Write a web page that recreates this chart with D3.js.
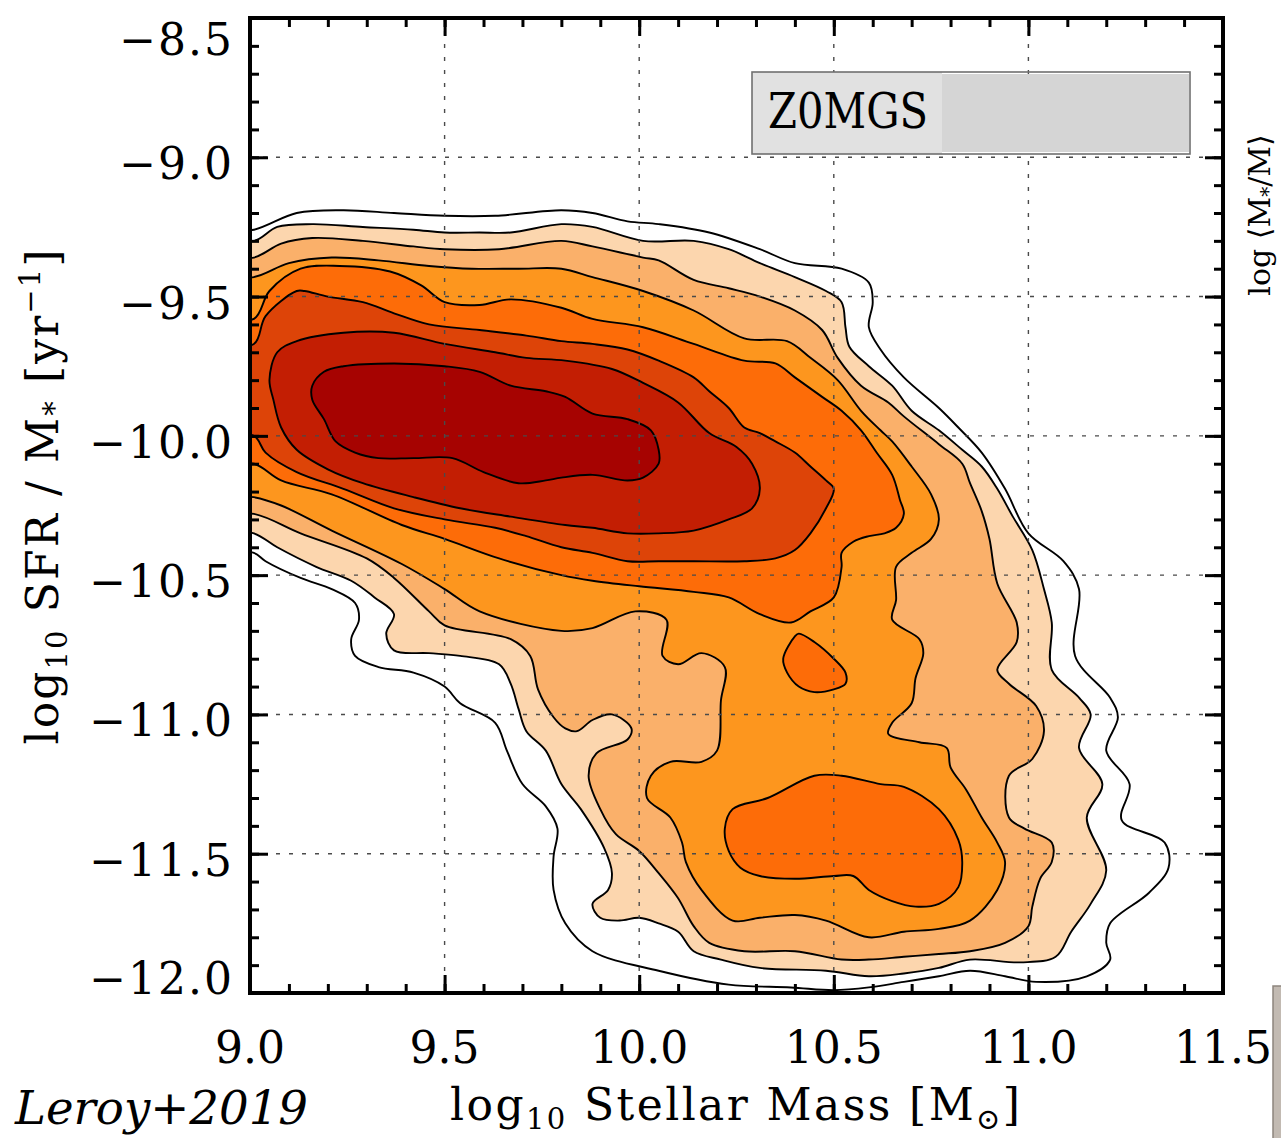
<!DOCTYPE html>
<html>
<head>
<meta charset="utf-8">
<script src="https://cdn.jsdelivr.net/npm/d3@7"></script>
<style>
  body { margin: 0; background: #fff; }
  svg text { font-family: "DejaVu Serif", serif; }
</style>
</head>
<body>
<div id="chart"></div>
<script>
// Parameters
var W = 1281, H = 1138;
var mL = 250, mR = 1223, mT = 18, mB = 993;

// tick values
var xMajor = [9.0, 9.5, 10.0, 10.5, 11.0, 11.5],
  yMajor = [-8.5, -9.0, -9.5, -10.0, -10.5, -11.0, -11.5, -12.0],
  xGrid = [9.5, 10.0, 10.5, 11.0],
  yGrid = [-9.0, -9.5, -10.0, -10.5, -11.0, -11.5];

// contour fills, outermost (level 0) to innermost (level 7)
var levelColors = ["#ffffff", "#fcd6ae", "#fab06a", "#fd961e", "#fd6c08", "#dd4408", "#c31e03", "#a60301"];

// contour outlines as [log10 M*, log10 sSFR]
var c0 = [[8.90,-9.27],[9.01,-9.26],[9.12,-9.20],[9.24,-9.19],[9.37,-9.20],[9.50,-9.21],[9.63,-9.21],[9.80,-9.19],
  [9.88,-9.20],[9.97,-9.23],[10.05,-9.24],[10.18,-9.27],[10.31,-9.33],[10.40,-9.38],[10.52,-9.40],[10.59,-9.45],
  [10.60,-9.52],[10.59,-9.61],[10.62,-9.69],[10.68,-9.79],[10.77,-9.90],[10.82,-9.97],[10.88,-10.06],[10.94,-10.19],
  [11.00,-10.35],[11.09,-10.45],[11.13,-10.55],[11.12,-10.79],[11.21,-10.94],[11.23,-11.01],[11.20,-11.13],[11.26,-11.25],
  [11.24,-11.38],[11.35,-11.46],[11.36,-11.55],[11.31,-11.64],[11.21,-11.75],[11.20,-11.82],[11.21,-11.88],[11.15,-11.94],
  [11.02,-11.96],[10.94,-11.94],[10.85,-11.92],[10.77,-11.94],[10.68,-11.96],[10.59,-11.98],[10.50,-11.99],[10.39,-11.98],
  [10.23,-11.97],[10.05,-11.92],[9.88,-11.85],[9.81,-11.75],[9.78,-11.63],[9.78,-11.51],[9.79,-11.41],[9.76,-11.33],
  [9.70,-11.25],[9.66,-11.13],[9.63,-11.03],[9.54,-10.96],[9.50,-10.90],[9.42,-10.85],[9.33,-10.83],[9.27,-10.79],
  [9.26,-10.73],[9.28,-10.66],[9.27,-10.60],[9.21,-10.55],[9.13,-10.51],[9.04,-10.45],[9.01,-10.42],[8.90,-10.40]];

var c1 = [[8.90,-9.28],[9.01,-9.30],[9.07,-9.25],[9.16,-9.24],[9.29,-9.25],[9.42,-9.26],[9.50,-9.27],[9.59,-9.27],
  [9.67,-9.27],[9.80,-9.24],[9.88,-9.25],[10.01,-9.30],[10.14,-9.30],[10.23,-9.33],[10.31,-9.38],[10.40,-9.43],
  [10.48,-9.48],[10.52,-9.52],[10.53,-9.61],[10.54,-9.68],[10.59,-9.75],[10.65,-9.82],[10.70,-9.91],[10.77,-9.98],
  [10.83,-10.05],[10.88,-10.11],[10.92,-10.19],[10.96,-10.29],[11.01,-10.41],[11.04,-10.55],[11.06,-10.67],[11.06,-10.84],
  [11.13,-10.94],[11.16,-11.00],[11.13,-11.12],[11.19,-11.25],[11.15,-11.37],[11.20,-11.56],[11.16,-11.68],[11.11,-11.78],
  [11.07,-11.87],[10.98,-11.89],[10.85,-11.88],[10.77,-11.91],[10.68,-11.93],[10.59,-11.94],[10.48,-11.92],[10.31,-11.91],
  [10.21,-11.88],[10.14,-11.85],[10.10,-11.78],[10.05,-11.75],[10.00,-11.73],[9.95,-11.74],[9.90,-11.73],[9.88,-11.68],
  [9.92,-11.63],[9.93,-11.57],[9.91,-11.48],[9.85,-11.34],[9.80,-11.25],[9.76,-11.13],[9.71,-11.06],[9.69,-10.98],
  [9.67,-10.89],[9.64,-10.82],[9.54,-10.79],[9.46,-10.78],[9.37,-10.77],[9.35,-10.71],[9.37,-10.64],[9.32,-10.58],
  [9.26,-10.52],[9.17,-10.47],[9.07,-10.40],[9.01,-10.35],[8.90,-10.33]];

var c2 = [[8.90,-9.36],[9.01,-9.36],[9.08,-9.31],[9.16,-9.29],[9.29,-9.30],[9.42,-9.32],[9.50,-9.33],[9.64,-9.33],
  [9.80,-9.30],[9.88,-9.32],[10.01,-9.36],[10.05,-9.37],[10.14,-9.44],[10.23,-9.47],[10.31,-9.50],[10.40,-9.55],
  [10.47,-9.62],[10.51,-9.72],[10.57,-9.82],[10.64,-9.88],[10.68,-9.93],[10.77,-10.03],[10.83,-10.10],[10.85,-10.17],
  [10.88,-10.27],[10.90,-10.37],[10.92,-10.53],[10.97,-10.67],[10.97,-10.74],[10.92,-10.84],[10.95,-10.89],[11.02,-10.97],
  [11.04,-11.06],[11.01,-11.16],[10.95,-11.22],[10.95,-11.37],[10.99,-11.41],[11.06,-11.46],[11.06,-11.53],[11.03,-11.59],
  [11.01,-11.69],[11.00,-11.76],[10.94,-11.82],[10.85,-11.85],[10.77,-11.86],[10.68,-11.87],[10.59,-11.88],[10.52,-11.88],
  [10.40,-11.85],[10.27,-11.85],[10.18,-11.82],[10.14,-11.76],[10.10,-11.66],[10.05,-11.57],[10.00,-11.49],[9.94,-11.43],
  [9.90,-11.34],[9.87,-11.22],[9.89,-11.14],[9.97,-11.09],[9.98,-11.05],[9.93,-11.00],[9.88,-11.02],[9.84,-11.06],
  [9.81,-11.05],[9.78,-11.01],[9.74,-10.91],[9.72,-10.79],[9.67,-10.73],[9.50,-10.68],[9.46,-10.63],[9.37,-10.51],
  [9.30,-10.44],[9.13,-10.35],[9.01,-10.28],[8.90,-10.28]];

var c3 = [[8.90,-9.43],[9.01,-9.43],[9.10,-9.38],[9.21,-9.36],[9.33,-9.37],[9.46,-9.39],[9.57,-9.40],[9.69,-9.40],
  [9.80,-9.40],[9.88,-9.43],[10.01,-9.48],[10.14,-9.55],[10.27,-9.65],[10.38,-9.66],[10.44,-9.72],[10.51,-9.80],
  [10.57,-9.91],[10.62,-9.98],[10.65,-10.02],[10.70,-10.11],[10.75,-10.21],[10.77,-10.30],[10.75,-10.37],[10.70,-10.42],
  [10.66,-10.47],[10.66,-10.59],[10.65,-10.66],[10.72,-10.73],[10.73,-10.78],[10.71,-10.87],[10.70,-10.96],[10.65,-11.03],
  [10.64,-11.07],[10.72,-11.10],[10.79,-11.12],[10.80,-11.19],[10.84,-11.27],[10.88,-11.37],[10.92,-11.46],[10.94,-11.53],
  [10.92,-11.63],[10.85,-11.74],[10.77,-11.77],[10.68,-11.78],[10.59,-11.80],[10.48,-11.74],[10.40,-11.72],[10.31,-11.73],
  [10.24,-11.74],[10.16,-11.63],[10.12,-11.53],[10.11,-11.46],[10.08,-11.37],[10.02,-11.30],[10.03,-11.22],[10.08,-11.17],
  [10.16,-11.17],[10.20,-11.13],[10.21,-10.95],[10.22,-10.83],[10.16,-10.78],[10.10,-10.82],[10.06,-10.79],[10.07,-10.66],
  [9.99,-10.63],[9.88,-10.69],[9.80,-10.70],[9.59,-10.63],[9.50,-10.55],[9.39,-10.46],[9.21,-10.34],[9.08,-10.25],
  [9.01,-10.22],[8.90,-10.21]];

var c4 = [[8.90,-9.58],[9.01,-9.58],[9.05,-9.48],[9.13,-9.40],[9.23,-9.39],[9.36,-9.41],[9.44,-9.46],[9.50,-9.52],
  [9.59,-9.53],[9.67,-9.51],[9.80,-9.54],[9.88,-9.58],[10.01,-9.61],[10.14,-9.67],[10.27,-9.73],[10.35,-9.74],
  [10.40,-9.79],[10.47,-9.86],[10.52,-9.91],[10.57,-9.98],[10.61,-10.06],[10.65,-10.14],[10.67,-10.23],[10.68,-10.28],
  [10.66,-10.33],[10.63,-10.35],[10.59,-10.36],[10.55,-10.38],[10.52,-10.42],[10.52,-10.47],[10.50,-10.58],[10.44,-10.63],
  [10.39,-10.67],[10.31,-10.64],[10.23,-10.58],[10.14,-10.56],[10.00,-10.54],[9.88,-10.52],[9.80,-10.50],[9.64,-10.44],
  [9.50,-10.37],[9.39,-10.32],[9.21,-10.21],[9.08,-10.16],[9.01,-10.10],[8.90,-10.10]];

var c4b = [[10.37,-10.80],[10.40,-10.72],[10.41,-10.71],[10.45,-10.74],[10.50,-10.80],[10.53,-10.85],[10.53,-10.89],
  [10.50,-10.91],[10.45,-10.92],[10.41,-10.90],[10.38,-10.85]];

var c4c = [[10.22,-11.41],[10.24,-11.34],[10.33,-11.30],[10.45,-11.22],[10.52,-11.22],[10.62,-11.25],[10.68,-11.26],
  [10.77,-11.34],[10.82,-11.45],[10.83,-11.53],[10.82,-11.62],[10.77,-11.68],[10.71,-11.69],[10.65,-11.67],[10.59,-11.63],
  [10.55,-11.58],[10.50,-11.58],[10.40,-11.59],[10.31,-11.58],[10.26,-11.55],[10.23,-11.49]];

var c5 = [[8.90,-9.67],[9.01,-9.67],[9.04,-9.57],[9.12,-9.48],[9.14,-9.48],[9.20,-9.50],[9.29,-9.52],[9.37,-9.56],
  [9.46,-9.60],[9.59,-9.62],[9.71,-9.64],[9.80,-9.66],[9.88,-9.67],[9.97,-9.69],[10.05,-9.73],[10.14,-9.79],
  [10.18,-9.84],[10.23,-9.90],[10.27,-9.97],[10.31,-9.99],[10.35,-10.02],[10.40,-10.06],[10.44,-10.11],[10.48,-10.16],
  [10.50,-10.19],[10.48,-10.26],[10.44,-10.35],[10.40,-10.41],[10.35,-10.44],[10.27,-10.45],[10.14,-10.45],[10.05,-10.45],
  [9.97,-10.45],[9.88,-10.42],[9.80,-10.40],[9.71,-10.36],[9.63,-10.33],[9.50,-10.30],[9.37,-10.26],[9.24,-10.19],
  [9.12,-10.13],[9.04,-10.06],[9.01,-10.00],[8.90,-10.00]];

var c6 = [[9.05,-9.80],[9.07,-9.70],[9.12,-9.66],[9.24,-9.63],[9.37,-9.63],[9.50,-9.67],[9.63,-9.70],[9.71,-9.72],
  [9.81,-9.73],[9.93,-9.76],[10.01,-9.81],[10.10,-9.88],[10.18,-9.99],[10.25,-10.04],[10.29,-10.10],[10.31,-10.19],
  [10.29,-10.26],[10.23,-10.30],[10.14,-10.34],[10.05,-10.35],[9.97,-10.35],[9.88,-10.33],[9.81,-10.32],[9.67,-10.29],
  [9.54,-10.26],[9.42,-10.22],[9.29,-10.17],[9.20,-10.12],[9.12,-10.05],[9.08,-9.97],[9.06,-9.87]];

var c7 = [[9.16,-9.82],[9.19,-9.77],[9.24,-9.75],[9.37,-9.74],[9.50,-9.75],[9.59,-9.77],[9.67,-9.82],[9.76,-9.84],
  [9.81,-9.86],[9.88,-9.92],[9.97,-9.94],[10.03,-9.98],[10.05,-10.05],[10.05,-10.10],[10.01,-10.15],[9.97,-10.16],
  [9.88,-10.14],[9.80,-10.15],[9.76,-10.16],[9.69,-10.17],[9.60,-10.13],[9.52,-10.08],[9.42,-10.08],[9.33,-10.08],
  [9.27,-10.06],[9.22,-10.02],[9.19,-9.94],[9.16,-9.87]];

var contours = [
  {level: 0, pts: c0}, {level: 1, pts: c1}, {level: 2, pts: c2}, {level: 3, pts: c3},
  {level: 4, pts: c4}, {level: 4, pts: c4b}, {level: 4, pts: c4c},
  {level: 5, pts: c5}, {level: 6, pts: c6}, {level: 7, pts: c7}
];

// Scales
var x = d3.scaleLinear().domain([9.0, 11.5]).range([mL, mR]);
var y = d3.scaleLinear().domain([-12.0, -8.5]).range([mB, mT]);

var svg = d3.select("#chart").append("svg")
  .attr("width", W)
  .attr("height", H);

svg.append("defs").append("clipPath")
  .attr("id", "plotClip")
  .append("rect")
  .attr("x", mL).attr("y", mT)
  .attr("width", mR - mL).attr("height", mB - mT);

// edge of the neighbouring panel (drawn first, labels sit over it)
svg.append("rect")
  .attr("x", 1273).attr("y", 986)
  .attr("width", 10).attr("height", 154)
  .attr("fill", "#c2bab2")
  .attr("stroke", "#8d857d")
  .attr("stroke-width", 1.5);
var side = svg.append("text")
  .attr("transform", "translate(1270,215) rotate(-90)")
  .attr("text-anchor", "middle")
  .attr("font-size", 30);
side.append("tspan").text("log \u27e8M");
side.append("tspan").attr("font-size", 20).attr("dy", 5).text("*");
side.append("tspan").attr("dy", -5).text("/M\u27e9");

// contours
var line = d3.line()
  .x(function(d) { return x(d[0]); })
  .y(function(d) { return y(d[1]); })
  .curve(d3.curveCatmullRomClosed.alpha(0.5));

svg.append("g")
  .attr("clip-path", "url(#plotClip)")
  .selectAll("path")
  .data(contours)
  .enter().append("path")
  .attr("d", function(d) { return line(d.pts); })
  .attr("fill", function(d) { return levelColors[d.level]; })
  .attr("stroke", "#000")
  .attr("stroke-width", 1.9)
  .attr("stroke-linejoin", "round");

// dotted grid
var grid = svg.append("g")
  .attr("stroke", "#4a4a4a")
  .attr("stroke-width", 1.4)
  .attr("stroke-dasharray", "4,9");
grid.selectAll(".gx")
  .data(xGrid)
  .enter().append("line")
  .attr("x1", function(d) { return x(d); })
  .attr("x2", function(d) { return x(d); })
  .attr("y1", mT).attr("y2", mB);
grid.selectAll(".gy")
  .data(yGrid)
  .enter().append("line")
  .attr("y1", function(d) { return y(d); })
  .attr("y2", function(d) { return y(d); })
  .attr("x1", mL).attr("x2", mR);

// label box
svg.append("rect")
  .attr("x", 752).attr("y", 72)
  .attr("width", 190).attr("height", 82)
  .attr("fill", "#e1e1e1");
svg.append("rect")
  .attr("x", 942).attr("y", 74)
  .attr("width", 247).attr("height", 78)
  .attr("fill", "#d5d5d5");
svg.append("rect")
  .attr("x", 752).attr("y", 72)
  .attr("width", 438).attr("height", 82)
  .attr("fill", "none")
  .attr("stroke", "#707070")
  .attr("stroke-width", 1.6);
svg.append("text")
  .attr("x", 768).attr("y", 128)
  .attr("font-size", 48)
  .attr("textLength", 160)
  .attr("lengthAdjust", "spacingAndGlyphs")
  .text("Z0MGS");

// AXES
var fmt = d3.format(".1f");
var xMinor = d3.range(90, 116).map(function(d) { return d / 10; });
var yMinor = d3.range(-120, -84).map(function(d) { return d / 10; });

function tickAxis(axisFn, scale, vals, size, tx, ty) {
  var g = svg.append("g")
    .attr("transform", "translate(" + tx + "," + ty + ")")
    .call(axisFn(scale).tickValues(vals).tickSizeInner(-size).tickSizeOuter(0).tickFormat(""));
  g.select(".domain").remove();
  g.selectAll("line").attr("stroke", "#000").attr("stroke-width", 3);
  return g;
}

tickAxis(d3.axisBottom, x, xMinor, 9, 0, mB);
tickAxis(d3.axisBottom, x, xMajor, 18, 0, mB);
tickAxis(d3.axisTop, x, xMinor, 9, 0, mT);
tickAxis(d3.axisTop, x, xMajor, 18, 0, mT);
tickAxis(d3.axisLeft, y, yMinor, 9, mL, 0);
tickAxis(d3.axisLeft, y, yMajor, 18, mL, 0);
tickAxis(d3.axisRight, y, yMinor, 9, mR, 0);
tickAxis(d3.axisRight, y, yMajor, 18, mR, 0);

// frame
svg.append("rect")
  .attr("x", mL).attr("y", mT)
  .attr("width", mR - mL).attr("height", mB - mT)
  .attr("fill", "none")
  .attr("stroke", "#000")
  .attr("stroke-width", 4);

// tick labels
svg.append("g").selectAll("text")
  .data(xMajor)
  .enter().append("text")
  .attr("x", function(d) { return x(d); })
  .attr("y", mB + 70)
  .attr("text-anchor", "middle")
  .attr("font-size", 44)
  .text(function(d) { return fmt(d); });

svg.append("g").selectAll("text")
  .data(yMajor)
  .enter().append("text")
  .attr("x", mL - 16)
  .attr("y", function(d) {
    if (d === -8.5) return y(d) + 37;
    if (d === -12.0) return y(d) + 1;
    return y(d) + 22;
  })
  .attr("text-anchor", "end")
  .attr("font-size", 44)
  .attr("letter-spacing", 2)
  .text(function(d) { return fmt(d); });

// axis titles
var xt = svg.append("text")
  .attr("x", 735).attr("y", 1120)
  .attr("text-anchor", "middle")
  .attr("font-size", 44)
  .attr("textLength", 570)
  .attr("lengthAdjust", "spacing");
xt.append("tspan").text("log");
xt.append("tspan").attr("font-size", 29).attr("dy", 9).text("10");
xt.append("tspan").attr("dy", -9).text(" Stellar Mass [M");
xt.append("tspan").attr("font-size", 29).attr("dy", 9).text("\u2299");
xt.append("tspan").attr("dy", -9).text("]");

var yt = svg.append("text")
  .attr("transform", "translate(58,497) rotate(-90)")
  .attr("text-anchor", "middle")
  .attr("font-size", 44)
  .attr("textLength", 495)
  .attr("lengthAdjust", "spacing");
yt.append("tspan").text("log");
yt.append("tspan").attr("font-size", 29).attr("dy", 9).text("10");
yt.append("tspan").attr("dy", -9).text(" SFR / M");
yt.append("tspan").attr("font-size", 29).attr("dy", 6).text("*");
yt.append("tspan").attr("dy", -6).text(" [yr");
yt.append("tspan").attr("font-size", 29).attr("dy", -18).text("\u22121");
yt.append("tspan").attr("dy", 18).text("]");

svg.append("text")
  .attr("x", 15).attr("y", 1124)
  .attr("font-family", "Lato, 'Open Sans', sans-serif")
  .attr("font-style", "italic")
  .attr("font-size", 47)
  .attr("textLength", 293)
  .attr("lengthAdjust", "spacingAndGlyphs")
  .text("Leroy+2019");
</script>
</body>
</html>
